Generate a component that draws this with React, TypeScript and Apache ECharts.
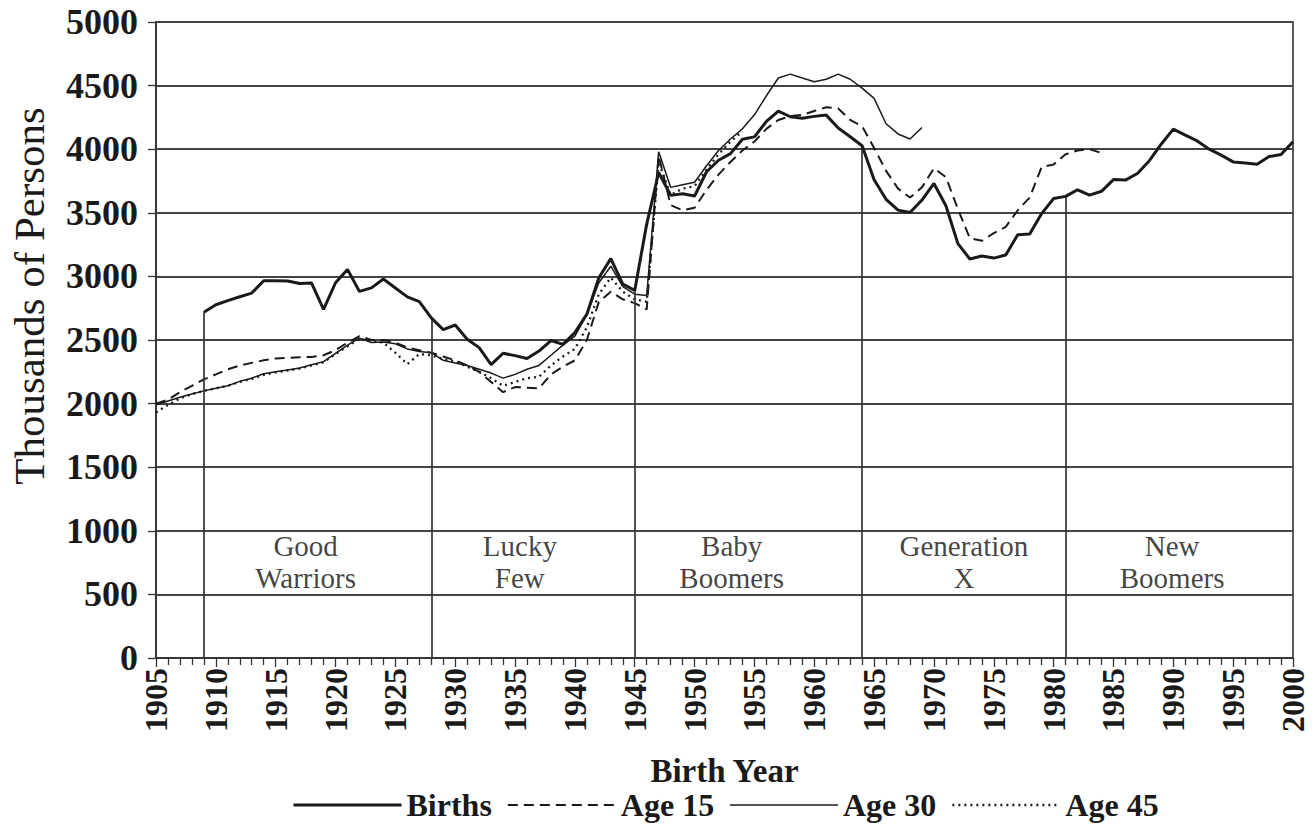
import React, { useEffect, useRef } from "react";
import * as echarts from "echarts";

const birthsStart = 1909;
const births = [
  2718, 2777, 2809, 2840, 2869, 2966, 2965, 2964, 2944, 2948, 2740, 2950, 3055, 2882, 2910, 2979, 2909, 2839, 2802, 2674,
  2582, 2618, 2506, 2440, 2307, 2396, 2377, 2355, 2413, 2496, 2466, 2559, 2703, 2989, 3140, 2939, 2890, 3411, 3817, 3637,
  3649, 3632, 3823, 3913, 3965, 4078, 4097, 4218, 4300, 4255, 4244, 4258, 4268, 4167, 4098, 4027, 3760, 3606, 3521, 3502,
  3600, 3731, 3556, 3258, 3137, 3160, 3144, 3168, 3327, 3333, 3494, 3612, 3629, 3681, 3639, 3669, 3761, 3757, 3809, 3910,
  4041, 4158, 4111, 4065, 4000, 3953, 3900, 3891, 3881, 3942, 3959, 4059,
];

const ageStart = 1905;
const age15 = [
  2000, 2030, 2090, 2140, 2190, 2230, 2270, 2300, 2320, 2340, 2355, 2360, 2365, 2366, 2380, 2420, 2480, 2530, 2500, 2500,
  2480, 2440, 2420, 2400, 2370, 2340, 2300, 2250, 2170, 2090, 2130, 2125, 2120, 2230, 2290, 2340, 2500, 2800, 2880, 2820,
  2790, 2740, 3950, 3560, 3520, 3540, 3680, 3800, 3900, 3990, 4060, 4160, 4230, 4260, 4270, 4300, 4330, 4320, 4230, 4180,
  4010, 3830, 3690, 3620, 3700, 3850, 3780, 3530, 3300, 3280, 3340, 3390, 3520, 3620, 3860, 3880, 3960, 3990, 4000, 3970,
];
const age30 = [
  1990, 2020, 2050, 2075, 2100, 2120, 2140, 2175, 2200, 2235, 2250, 2265, 2280, 2305, 2330, 2395, 2460, 2515, 2480, 2485,
  2470, 2430, 2410, 2400, 2340, 2320, 2300, 2270, 2240, 2200, 2230, 2270, 2300, 2380, 2460, 2530, 2700, 2950, 3080, 2920,
  2860, 2850, 3980, 3700, 3720, 3740, 3870, 3990, 4080, 4160, 4270, 4420, 4560, 4590, 4560, 4530, 4550, 4590, 4550, 4480,
  4400, 4200, 4120, 4080, 4170,
];
const age45 = [
  1930, 1990, 2040, 2075, 2100, 2120, 2140, 2170, 2195, 2225, 2245, 2260, 2275, 2300, 2325, 2390, 2450, 2510, 2490, 2480,
  2400, 2310, 2390, 2380, 2350, 2330, 2290, 2250, 2200, 2140, 2170, 2200, 2210, 2300, 2370, 2430, 2600, 2860, 2990, 2880,
  2820, 2800, 3900, 3640, 3690, 3710, 3840, 3960, 4060, 4140,
];

const cohortBoundaries = [1909, 1928, 1945, 1964, 1981];
const cohortNames = ["Good\nWarriors", "Lucky\nFew", "Baby\nBoomers", "Generation\nX", "New\nBoomers"];
const cohortLabelX = [1917.5, 1935.4, 1953.1, 1972.5, 1989.9];
const cohortLabelY = 755;

const seriesNames = ["Births", "Age 15", "Age 30", "Age 45"];
const yTitle = "Thousands of Persons";
const xTitle = "Birth Year";

const FONT = "Liberation Serif";
const INK = "#1a1a1a";

function toPairs(start: number, vals: number[]) {
  return vals.map((v, i) => [start + i, v]);
}

export default function App() {
  const ref = useRef<HTMLDivElement>(null);
  useEffect(() => {
    if (!ref.current) return;
    const chart = echarts.init(ref.current, undefined, { renderer: "svg" });
    const dropLines = cohortBoundaries.map((yr) => [
      { coord: [yr, 0] },
      { coord: [yr, births[yr - birthsStart]] },
    ]);
    chart.setOption({
      animation: false,
      backgroundColor: "#fff",
      textStyle: { fontFamily: FONT, color: INK },
      grid: {
        left: 156,
        right: 23,
        top: 22,
        bottom: 172,
        show: true,
        borderColor: "#333",
        borderWidth: 1.6,
        backgroundColor: "transparent",
      },
      graphic: [
        {
          type: "text",
          x: 29,
          y: 296,
          rotation: Math.PI / 2,
          style: {
            text: yTitle,
            fontFamily: FONT,
            fontSize: 43,
            fill: INK,
            textAlign: "center",
            textVerticalAlign: "middle",
          },
        },
      ],
      xAxis: {
        type: "value",
        min: 1905,
        max: 2000,
        interval: 5,
        name: xTitle,
        nameLocation: "middle",
        nameGap: 96,
        nameTextStyle: { fontFamily: FONT, fontSize: 33, color: INK, fontWeight: "bold" },
        axisLine: { show: true, lineStyle: { color: "#333", width: 1.6 } },
        axisTick: { show: true, length: 9, lineStyle: { color: "#333", width: 1.3 } },
        minorTick: { show: true, splitNumber: 5, length: 7, lineStyle: { color: "#333", width: 1.3 } },
        splitLine: { show: false },
        axisLabel: {
          rotate: 90,
          margin: 10,
          fontFamily: FONT,
          fontSize: 32,
          fontWeight: "bold",
          color: INK,
          formatter: (v: number) => String(v),
        },
      },
      yAxis: {
        type: "value",
        min: 0,
        max: 5000,
        interval: 500,
        axisLine: { show: true, lineStyle: { color: "#333", width: 1.6 } },
        axisTick: { show: true, length: 8, lineStyle: { color: "#333", width: 1.3 } },
        splitLine: { show: true, lineStyle: { color: "#444", width: 1.8 } },
        axisLabel: {
          margin: 18,
          fontFamily: FONT,
          fontSize: 36,
          fontWeight: "bold",
          color: INK,
          formatter: (v: number) => String(v),
        },
      },
      legend: {
        data: seriesNames,
        bottom: 4,
        left: 287,
        itemWidth: 108,
        itemHeight: 14,
        itemGap: 15,
        itemStyle: { opacity: 0, borderWidth: 0 },
        lineStyle: { width: "inherit" },
        textStyle: { fontFamily: FONT, fontSize: 32, color: INK, fontWeight: "bold" },
      },
      series: [
        {
          name: "Births",
          type: "line",
          data: toPairs(birthsStart, births),
          symbol: "none",
          lineStyle: { color: INK, width: 3 },
          itemStyle: { color: INK },
          z: 5,
          markLine: {
            silent: true,
            symbol: "none",
            label: { show: false },
            lineStyle: { color: "#333", width: 1.7, type: "solid" },
            data: dropLines,
          },
        },
        {
          name: "Age 15",
          type: "line",
          data: toPairs(ageStart, age15),
          symbol: "none",
          lineStyle: { color: INK, width: 2, type: [10, 6] },
          itemStyle: { color: INK },
        },
        {
          name: "Age 30",
          type: "line",
          data: toPairs(ageStart, age30),
          symbol: "none",
          lineStyle: { color: INK, width: 1.5 },
          itemStyle: { color: INK },
        },
        {
          name: "Age 45",
          type: "line",
          data: toPairs(ageStart, age45),
          symbol: "none",
          lineStyle: { color: INK, width: 2.3, type: [2, 4] },
          itemStyle: { color: INK },
        },
        {
          name: "cohorts",
          type: "scatter",
          symbolSize: 0,
          silent: true,
          data: cohortNames.map((n, i) => ({ value: [cohortLabelX[i], cohortLabelY], name: n })),
          label: {
            show: true,
            position: "inside",
            formatter: (p: any) => p.name,
            fontFamily: FONT,
            fontSize: 29,
            lineHeight: 32,
            color: "#111",
          },
        },
      ],
    });
    return () => chart.dispose();
  }, []);
  return (
    <div
      ref={ref}
      style={{ position: "fixed", left: 0, top: 0, width: 1316, height: 830, background: "#fff" }}
    />
  );
}
